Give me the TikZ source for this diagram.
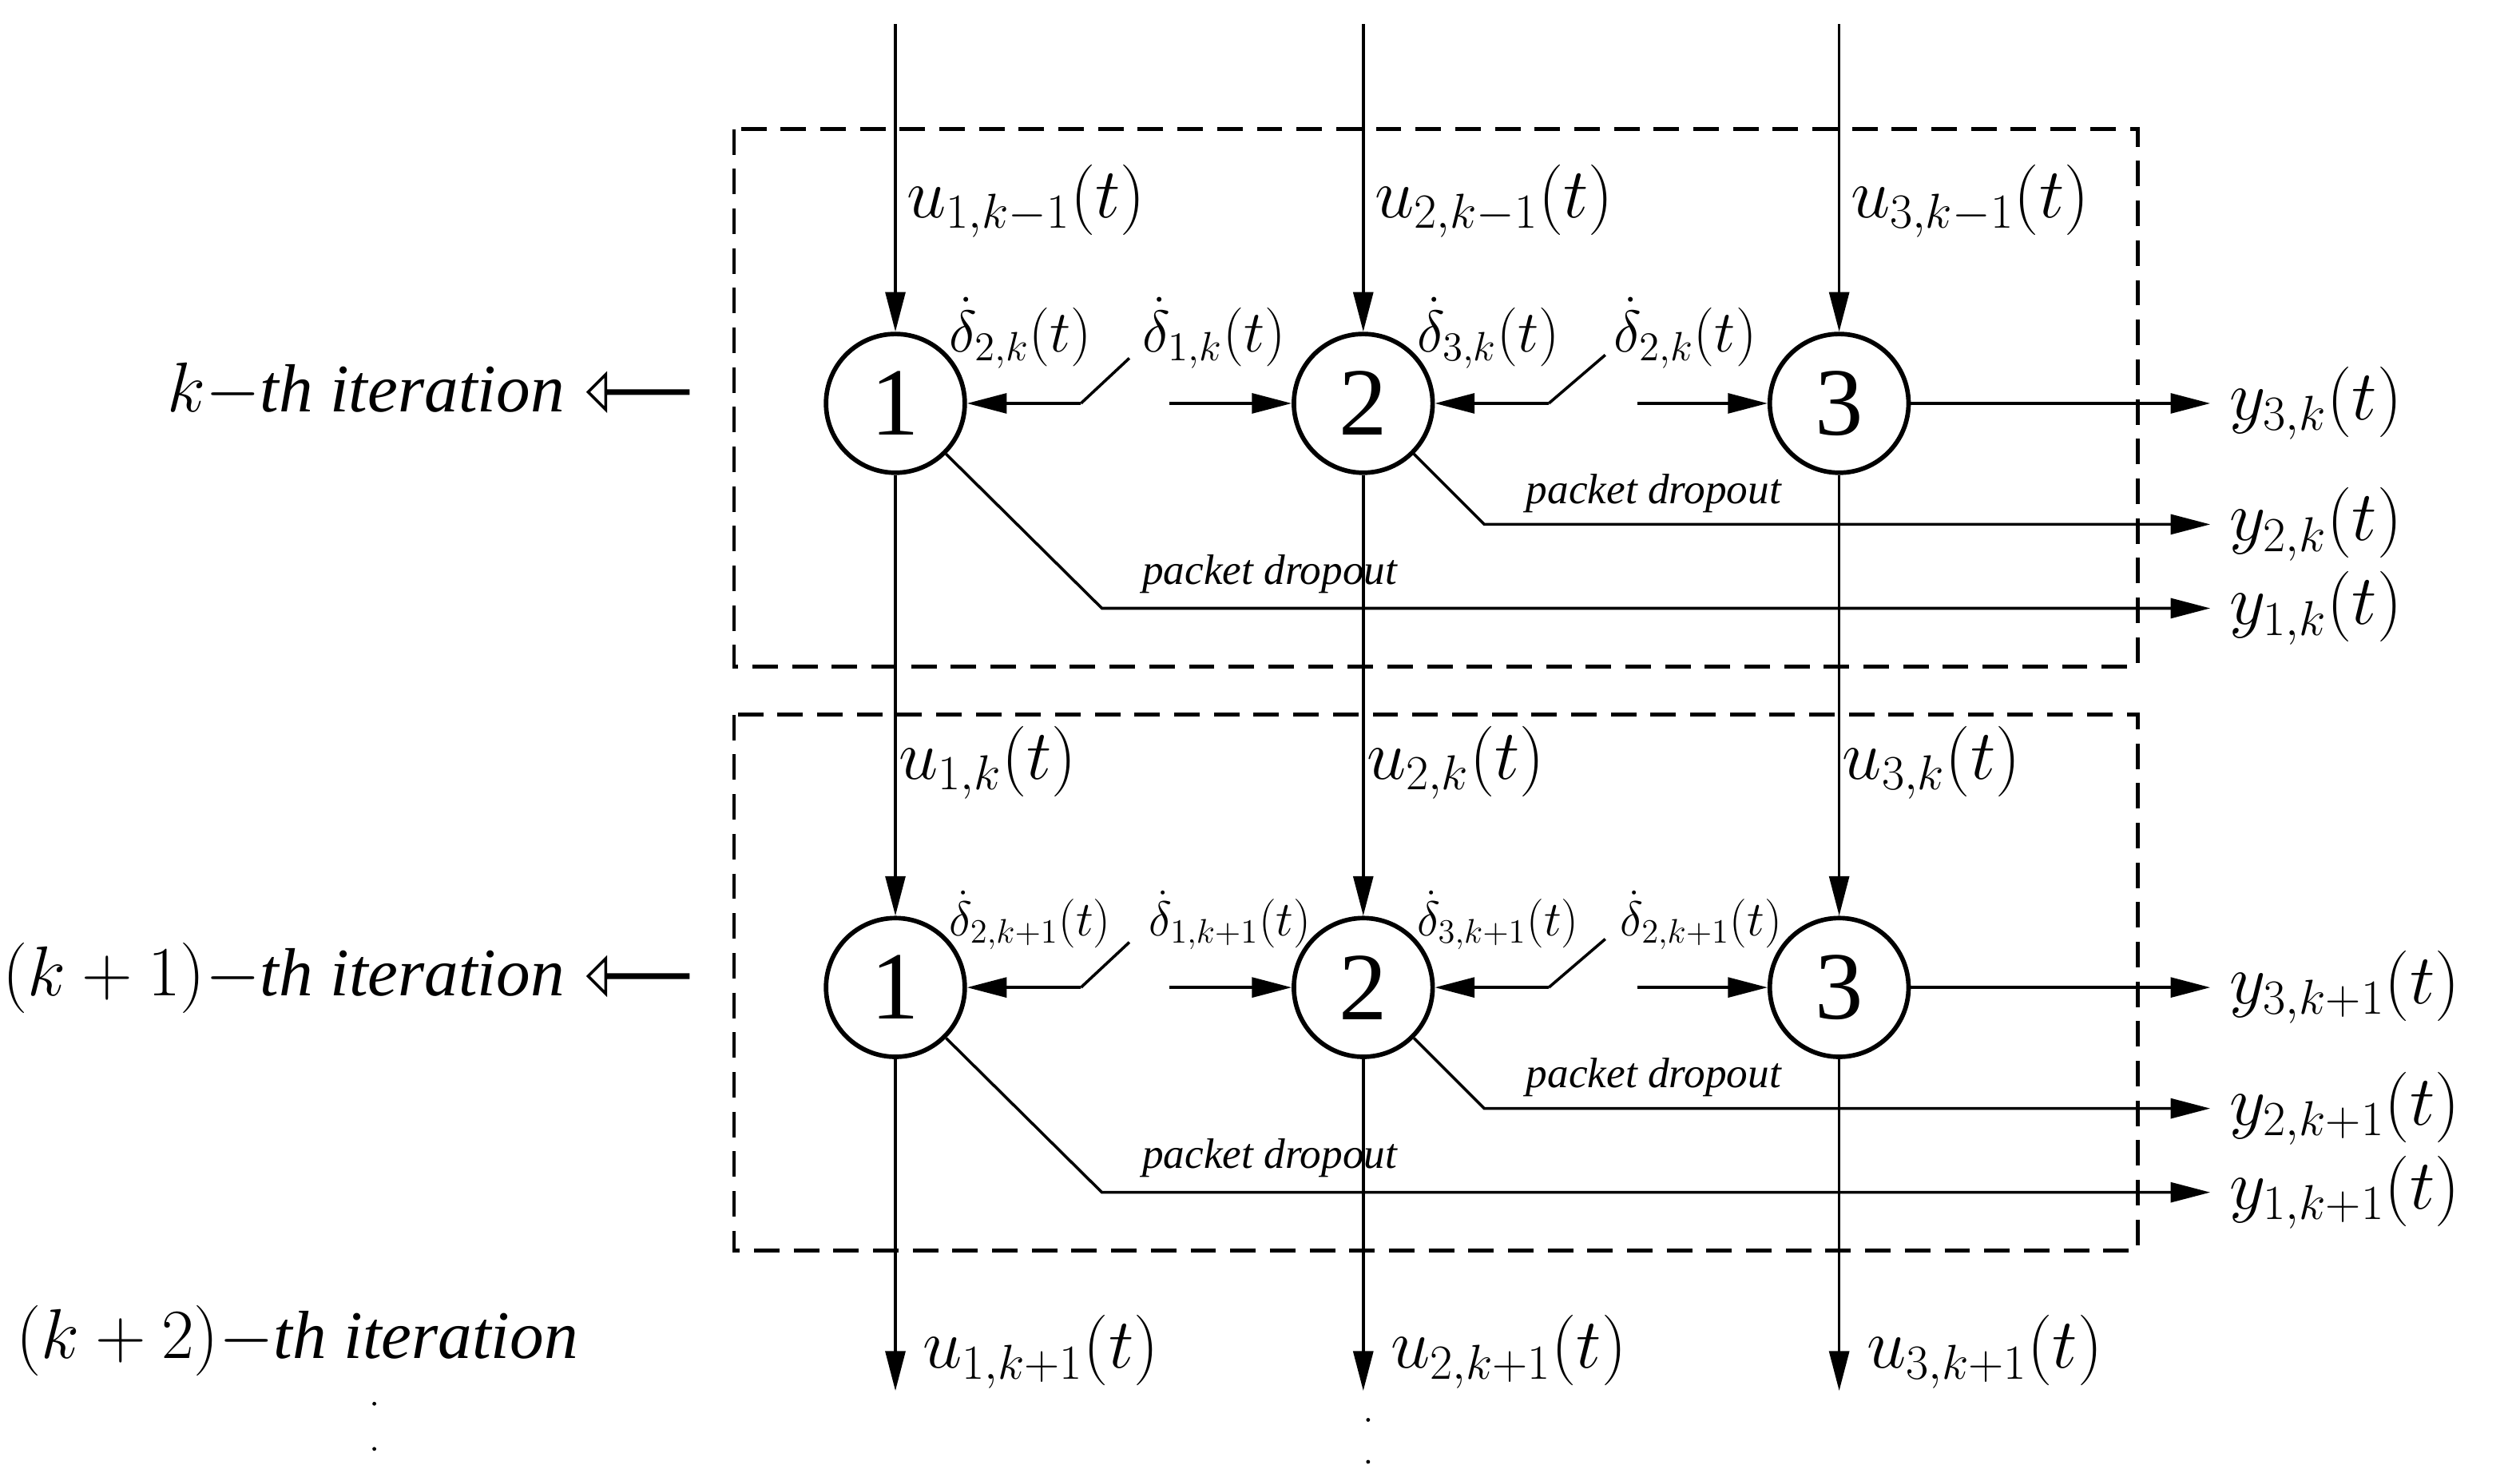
\documentclass[tikz,border=0pt]{standalone}
\usepackage{fontspec}
\setmainfont{Liberation Serif}
\usetikzlibrary{arrows.meta,shapes.arrows}
\begin{document}
\begin{tikzpicture}[x=0.02cm,y=-0.02cm,
  nd/.style={circle,draw,line width=1.6pt,minimum size=86*0.02cm,inner sep=0pt,font=\fontsize{34}{38}\selectfont},
  ar/.style={line width=1pt,-{Triangle[length=14pt,width=7pt]}},
  ln/.style={line width=1pt},
  lab/.style={font=\fontsize{24}{28}\selectfont,inner sep=1pt},
  dl/.style={font=\fontsize{21}{25}\selectfont,inner sep=0pt},
  dls/.style={font=\fontsize{18}{22}\selectfont,inner sep=0pt},
  pd/.style={font=\itshape\fontsize{15}{18}\selectfont,inner sep=1pt},
  it/.style={font=\itshape\fontsize{24}{28}\selectfont,inner sep=1pt},
  box/.style={line width=1.3pt,dash pattern=on 9pt off 5pt},
  ha/.style={single arrow,draw,line width=1pt,shape border rotate=180,minimum height=62*0.02cm,minimum width=20*0.02cm,single arrow head extend=10*0.02cm,single arrow head indent=0pt,inner sep=0pt}]
\useasboundingbox (0,0) rectangle (1562,915);
\draw[box] (455,80) rectangle (1325,413);
\draw[box] (455,443) rectangle (1325,775);
\coordinate (t1) at (555,15); \coordinate (t2) at (845,15); \coordinate (t3) at (1140,15);
\coordinate (e1) at (555,862); \coordinate (e2) at (845,862); \coordinate (e3) at (1140,862);
\foreach \r/\yy/\s/\st/\dx in {a/250/k/dl/0, b/612/{k+1}/dls/4}{
  \node[nd] (\r1) at (555,\yy) {1};
  \node[nd] (\r2) at (845,\yy) {2};
  \node[nd] (\r3) at (1140,\yy) {3};
  \coordinate (\r s1) at (670,\yy); \coordinate (\r w1) at (700,\yy-28);
  \coordinate (\r s2) at (725,\yy);
  \coordinate (\r s3) at (960,\yy); \coordinate (\r w3) at (995,\yy-30);
  \coordinate (\r s4) at (1015,\yy);
  \draw[ln] (\r w1) -- (\r s1); \draw[ar] (\r s1) -- (\r1);
  \draw[ar] (\r s2) -- (\r2);
  \draw[ln] (\r w3) -- (\r s3); \draw[ar] (\r s3) -- (\r2);
  \draw[ar] (\r s4) -- (\r3);
  \coordinate (\r o3) at (1370,\yy);
  \coordinate (\r c2) at (920,\yy+75); \coordinate (\r o2) at (1370,\yy+75);
  \coordinate (\r c1) at (683,\yy+127); \coordinate (\r o1) at (1370,\yy+127);
  \draw[ar] (\r3) -- (\r o3);
  \draw[ar] (\r2.-45) -- (\r c2) -- (\r o2);
  \draw[ar] (\r1.-45) -- (\r c1) -- (\r o1);
  \node[pd,anchor=base] (\r p2) at (1025,\yy+62) {packet dropout};
  \node[pd,anchor=base] (\r p1) at (787,\yy+112) {packet dropout};
  \node[lab,anchor=west] (\r y3) at (1380,\yy) {$y_{3,\s}(t)$};
  \node[lab,anchor=west] (\r y2) at (1380,\yy+75) {$y_{2,\s}(t)$};
  \node[lab,anchor=west] (\r y1) at (1380,\yy+127) {$y_{1,\s}(t)$};
  \node[\st,anchor=base west] (\r d1) at (588,\yy-32) {$\dot\delta_{2,\s}(t)$};
  \node[\st,anchor=base west] (\r d2) at (708+\dx,\yy-32) {$\dot\delta_{1,\s}(t)$};
  \node[\st,anchor=base west] (\r d3) at (878,\yy-32) {$\dot\delta_{3,\s}(t)$};
  \node[\st,anchor=base west] (\r d4) at (1000+\dx,\yy-32) {$\dot\delta_{2,\s}(t)$};
}
\draw[ar] (t1) -- (a1); \draw[ar] (t2) -- (a2); \draw[ar] (t3) -- (a3);
\draw[ar] (a1) -- (b1); \draw[ar] (a2) -- (b2); \draw[ar] (a3) -- (b3);
\draw[ar] (b1) -- (e1); \draw[ar] (b2) -- (e2); \draw[ar] (b3) -- (e3);
\foreach \i/\x in {1/560,2/850,3/1145}{
  \node[lab,anchor=base west] (ua\i) at (\x,135) {$u_{\i,k-1}(t)$};
  \node[lab,anchor=base west] (ub\i) at (\x-5,483) {$u_{\i,k}(t)$};
  \node[lab,anchor=base west] (uc\i) at (\x+10,848) {$u_{\i,k+1}(t)$};
}
\node[it,anchor=base east] (k1) at (352,255) {$k-$th iteration};
\node[it,anchor=base east] (k2) at (352,617) {$(k+1)-$th iteration};
\node[it,anchor=base west] (k3) at (8,842) {$(k+2)-$th iteration};
\node[ha] (h1) at (396,243) {};
\node[ha] (h2) at (396,605) {};
\foreach \yy in {870,898}{\fill (232,\yy) circle (1.2);}
\foreach \yy in {880,906}{\fill (848,\yy) circle (1.2);}
\end{tikzpicture}
\end{document}
